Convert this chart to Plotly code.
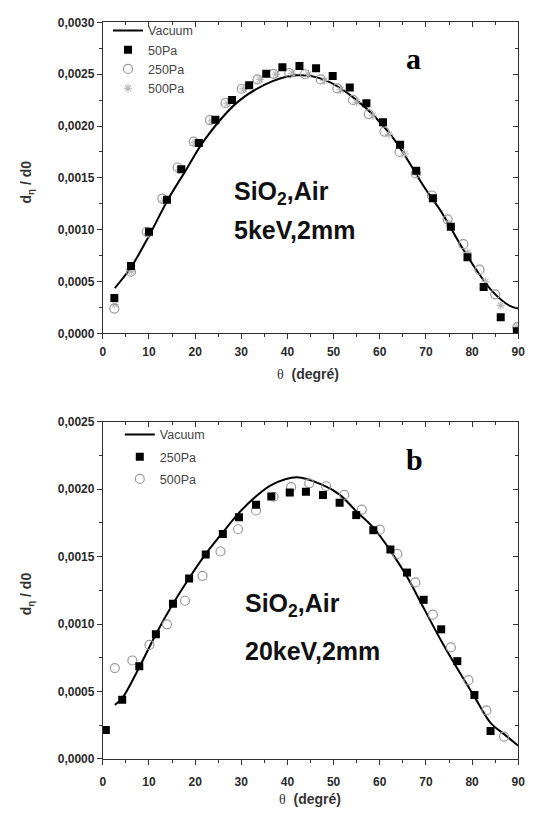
import plotly.graph_objects as go

# ---------------- Panel a (5 keV) ----------------
a_vac_theta = [2.6, 6.1, 10.0, 14.1, 17.8, 22.2, 29.5, 36.8, 42.0, 47.8, 55.2, 62.5, 69.8, 73.5, 77.2, 80.8, 84.5, 88.2, 90.0]
a_vac_val = [0.000436, 0.000637, 0.00094, 0.00129, 0.00156, 0.001877, 0.002243, 0.002433, 0.00249, 0.00245, 0.002243, 0.001908, 0.0014, 0.00116, 0.000875, 0.00062, 0.0004, 0.000264, 0.00024]

a_50_theta = [2.5, 6.1, 10.0, 13.9, 17.0, 20.8, 24.4, 28.0, 31.7, 35.4, 38.9, 42.6, 46.2, 49.8, 53.5, 57.1, 60.7, 64.4, 67.9, 71.5, 75.4, 79.0, 82.5, 86.2, 89.7]
a_50_val = [0.00034, 0.00065, 0.00098, 0.00129, 0.001584, 0.001836, 0.00206, 0.002252, 0.002395, 0.002504, 0.002567, 0.00258, 0.002557, 0.002484, 0.002373, 0.00222, 0.002036, 0.00182, 0.001569, 0.001304, 0.001028, 0.000735, 0.000446, 0.000156, 0.00002]

a_250_theta = [2.5, 6.1, 9.5, 12.9, 16.2, 19.7, 23.2, 26.6, 30.1, 33.5, 37.0, 40.4, 43.8, 47.2, 50.8, 54.2, 57.6, 61.0, 64.3, 67.8, 71.3, 74.7, 78.1, 81.6, 85.0, 89.8]
a_250_val = [0.000239, 0.000595, 0.00098, 0.0013, 0.0016, 0.00185, 0.002058, 0.002223, 0.00236, 0.00245, 0.002504, 0.00251, 0.0025, 0.00245, 0.002364, 0.002252, 0.002116, 0.001947, 0.00175, 0.001543, 0.00133, 0.0011, 0.00086, 0.000614, 0.000376, 0.00006]

a_500_theta = [2.6, 6.2, 9.8, 13.2, 16.6, 20.0, 23.6, 27.0, 30.5, 34.0, 37.5, 41.0, 44.5, 48.0, 51.5, 55.0, 58.5, 62.0, 65.4, 68.0, 71.8, 75.0, 79.0, 82.9, 86.2, 89.7]
a_500_val = [0.00028, 0.0006, 0.00096, 0.00128, 0.00158, 0.00184, 0.00205, 0.00222, 0.00236, 0.00245, 0.0025, 0.00251, 0.0025, 0.00244, 0.00235, 0.00223, 0.0021, 0.00192, 0.00173, 0.00155, 0.0013, 0.00106, 0.00078, 0.0005, 0.00027, 0.00006]

# ---------------- Panel b (20 keV) ----------------
b_vac_theta = [2.6, 4.2, 7.9, 11.5, 15.2, 18.7, 22.3, 26.0, 29.5, 33.2, 36.5, 42.0, 47.7, 51.3, 54.9, 58.6, 62.3, 65.9, 69.5, 73.3, 76.8, 80.5, 84.0, 87.0, 90.0]
b_vac_val = [0.000401, 0.00045, 0.00068, 0.000925, 0.00115, 0.00134, 0.00152, 0.00168, 0.001825, 0.001947, 0.002031, 0.002088, 0.00203, 0.00196, 0.001837, 0.001715, 0.001545, 0.00135, 0.00112, 0.000876, 0.00067, 0.000462, 0.000268, 0.000182, 0.000097]

b_250_theta = [0.66, 4.2, 7.9, 11.5, 15.2, 18.7, 22.3, 26.0, 29.5, 33.2, 36.5, 40.5, 44.0, 47.7, 51.3, 54.9, 58.6, 62.3, 65.9, 69.5, 73.3, 76.8, 80.5, 84.0]
b_250_val = [0.000214, 0.000438, 0.000688, 0.000925, 0.00115, 0.001338, 0.001516, 0.001667, 0.001793, 0.001885, 0.001946, 0.001975, 0.001982, 0.001958, 0.0019, 0.001808, 0.001696, 0.001553, 0.001382, 0.00118, 0.000961, 0.000725, 0.000474, 0.000207]

b_500_theta = [2.6, 6.4, 10.1, 13.9, 17.8, 21.6, 25.5, 29.3, 33.2, 37.0, 40.8, 44.7, 48.4, 52.3, 56.1, 60.0, 63.8, 67.7, 71.5, 75.4, 79.2, 83.1, 86.9]
b_500_val = [0.000674, 0.00073, 0.000845, 0.000998, 0.001173, 0.001358, 0.001538, 0.001703, 0.001842, 0.001944, 0.002015, 0.002044, 0.002022, 0.001958, 0.001849, 0.0017, 0.00152, 0.001309, 0.00107, 0.000827, 0.000584, 0.00036, 0.000166]

x_ticks = [0, 10, 20, 30, 40, 50, 60, 70, 80, 90]
a_y_ticks = [0.0, 0.0005, 0.0010, 0.0015, 0.0020, 0.0025, 0.0030]
b_y_ticks = [0.0, 0.0005, 0.0010, 0.0015, 0.0020, 0.0025]

W, H = 539, 819
XD = [101.7 / W, 525 / W]
YD_A = [1 - 332 / H, 1 - 15.7 / H]
YD_B = [1 - 765 / H, 1 - 422 / H]

fig = go.Figure()

sq = dict(symbol="square", size=8, color="black")
circ = dict(symbol="circle-open", size=9, color="#9a9a9a", line=dict(width=1.2, color="#9a9a9a"))
star = dict(symbol="asterisk-open", size=7, color="#b8b8b8", line=dict(width=1.1, color="#b8b8b8"))

vac_line = dict(color="black", width=2, shape="spline", smoothing=1.0)

# panel a
fig.add_trace(go.Scatter(x=a_vac_theta, y=a_vac_val, mode="lines", line=vac_line, name="Vacuum",
                         xaxis="x", yaxis="y", legend="legend", legendrank=1, legendgroup="a1"))
fig.add_trace(go.Scatter(x=a_500_theta, y=a_500_val, mode="markers", marker=star, name="500Pa",
                         xaxis="x", yaxis="y", legend="legend", legendrank=4, legendgroup="a4"))
fig.add_trace(go.Scatter(x=a_250_theta, y=a_250_val, mode="markers", marker=circ, name="250Pa",
                         xaxis="x", yaxis="y", legend="legend", legendrank=3, legendgroup="a3"))
fig.add_trace(go.Scatter(x=a_50_theta, y=a_50_val, mode="markers", marker=sq, name="50Pa",
                         xaxis="x", yaxis="y", legend="legend", legendrank=2, legendgroup="a2"))

# panel b
fig.add_trace(go.Scatter(x=b_vac_theta, y=b_vac_val, mode="lines", line=vac_line, name="Vacuum",
                         xaxis="x2", yaxis="y2", legend="legend2", legendrank=1, legendgroup="b1"))
fig.add_trace(go.Scatter(x=b_500_theta, y=b_500_val, mode="markers", marker=circ, name="500Pa",
                         xaxis="x2", yaxis="y2", legend="legend2", legendrank=3, legendgroup="b3"))
fig.add_trace(go.Scatter(x=b_250_theta, y=b_250_val, mode="markers", marker=sq, name="250Pa",
                         xaxis="x2", yaxis="y2", legend="legend2", legendrank=2, legendgroup="b2"))

tickfont = dict(family="Liberation Sans", size=12, color="#2a2a2a", weight="bold")

def xax(anchor, standoff):
    return dict(domain=XD, range=[0, 90], anchor=anchor, tickvals=x_ticks, ticks="outside", ticklen=5, tickwidth=1,
                tickcolor="#333", showline=True, linecolor="#333", linewidth=1, mirror=True, showgrid=False, zeroline=False,
                tickfont=tickfont, ticklabelstandoff=standoff,
                minor=dict(dtick=5, tick0=0, ticks="outside", ticklen=3, tickcolor="#333"))

def yax(anchor, dom, top, ticks):
    return dict(domain=dom, range=[0, top], anchor=anchor, tickvals=ticks, tickformat=".4f", ticks="outside", ticklen=5,
                tickwidth=1, tickcolor="#333", showline=True, linecolor="#333", linewidth=1, mirror=True, showgrid=False,
                zeroline=False, tickfont=tickfont,
                minor=dict(dtick=0.00025, tick0=0, ticks="outside", ticklen=3, tickcolor="#333"))

def xin(overlay, anchor):
    return dict(domain=XD, range=[0, 90], overlaying=overlay, side="top", anchor=anchor, tickvals=x_ticks, ticks="inside",
                ticklen=5, tickcolor="#333", showticklabels=False, showgrid=False, zeroline=False, showline=False,
                minor=dict(dtick=5, tick0=0, ticks="inside", ticklen=3, tickcolor="#333"))

def yin(overlay, anchor, dom, top, ticks):
    return dict(domain=dom, range=[0, top], overlaying=overlay, side="right", anchor=anchor, tickvals=ticks, ticks="inside",
                ticklen=5, tickcolor="#333", showticklabels=False, showgrid=False, zeroline=False, showline=False,
                minor=dict(dtick=0.00025, tick0=0, ticks="inside", ticklen=3, tickcolor="#333"))

# invisible carriers for the inside-tick (top/right) axes
fig.add_trace(go.Scatter(x=[0], y=[0], mode="markers", marker=dict(opacity=0), showlegend=False, hoverinfo="skip", xaxis="x3", yaxis="y3"))
fig.add_trace(go.Scatter(x=[0], y=[0], mode="markers", marker=dict(opacity=0), showlegend=False, hoverinfo="skip", xaxis="x4", yaxis="y4"))

legfont = dict(family="Liberation Sans", size=12.5, color="#444")

fig.update_layout(
    width=W, height=H, margin=dict(l=0, r=0, t=0, b=0),
    paper_bgcolor="white", plot_bgcolor="white", separators=", ",
    xaxis=xax("y", 2), yaxis=yax("x", YD_A, 0.0030, a_y_ticks),
    xaxis2=xax("y2", 7), yaxis2=yax("x2", YD_B, 0.0025, b_y_ticks),
    xaxis3=xin("x", "y3"), yaxis3=yin("y", "x3", YD_A, 0.0030, a_y_ticks),
    xaxis4=xin("x2", "y4"), yaxis4=yin("y2", "x4", YD_B, 0.0025, b_y_ticks),
    legend=dict(x=107 / W, y=1 - 9 / H, xanchor="left", yanchor="top", bgcolor="rgba(0,0,0,0)", font=legfont,
                tracegroupgap=0, itemwidth=30, traceorder="grouped"),
    legend2=dict(x=119 / W, y=1 - 420 / H, xanchor="left", yanchor="top", bgcolor="rgba(0,0,0,0)", font=legfont,
                 tracegroupgap=3, itemwidth=30, traceorder="grouped"),
    showlegend=True,
)

ann_font = dict(family="Liberation Sans", size=25, color="#111", weight="bold")
lab_font = dict(family="Liberation Sans", size=14, color="#333", weight="bold")
ylab = "d<sub>η</sub> / d0"
xlab = "<span style='font-family:Liberation Serif;font-weight:normal'>θ</span>  (degré)"
anns = [
    dict(text="a", x=418 / W, y=1 - 52 / H, font=dict(family="Liberation Serif", size=30, color="black", weight="bold")),
    dict(text="b", x=419 / W, y=1 - 460 / H, font=dict(family="Liberation Serif", size=30, color="black", weight="bold")),
    dict(text="SiO<sub>2</sub>,Air", x=233 / W, y=1 - 189 / H, xanchor="left", font=ann_font),
    dict(text="5keV,2mm", x=233 / W, y=1 - 226.5 / H, xanchor="left", font=ann_font),
    dict(text="SiO<sub>2</sub>,Air", x=245 / W, y=1 - 608 / H, xanchor="left", font=ann_font),
    dict(text="20keV,2mm", x=245 / W, y=1 - 655 / H, xanchor="left", font=ann_font),
    dict(text=ylab, x=24 / W, y=1 - 178 / H, textangle=-90, font=lab_font),
    dict(text=ylab, x=24 / W, y=1 - 597 / H, textangle=-90, font=lab_font),
    dict(text=xlab, x=311 / W, y=1 - 373 / H, font=lab_font),
    dict(text=xlab, x=313 / W, y=1 - 806 / H, font=lab_font),
]
for a in anns:
    a.setdefault("xanchor", "center")
    a.update(xref="paper", yref="paper", showarrow=False, yanchor="middle")
fig.update_layout(annotations=anns)

fig.write_html("out.html")
